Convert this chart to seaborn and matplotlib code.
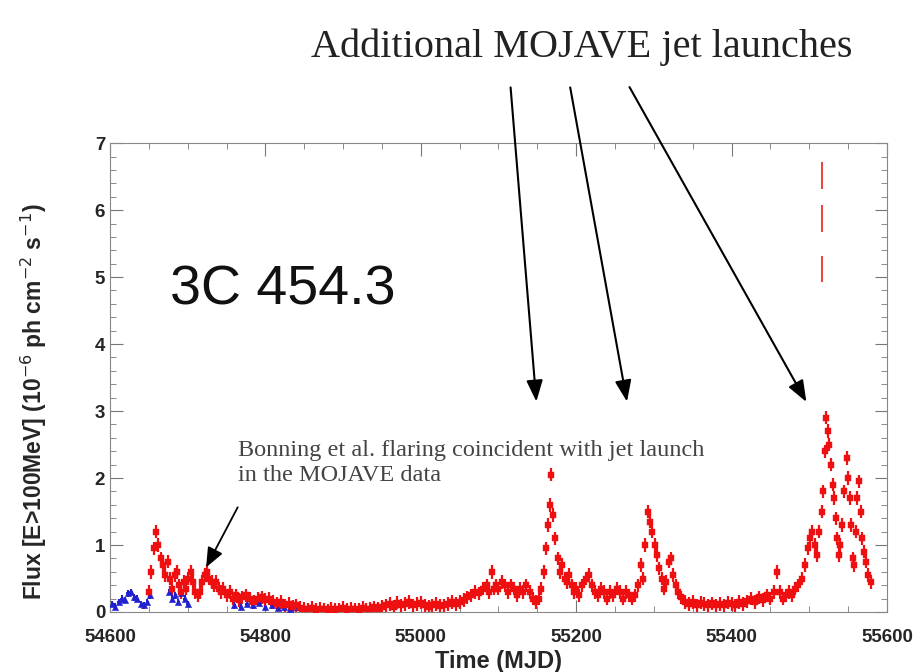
import numpy as np
import pandas as pd
import seaborn as sns
import matplotlib.pyplot as plt
from matplotlib.ticker import MultipleLocator

# Fermi-LAT light curve of 3C 454.3
red_t = [54650, 54653, 54656, 54659, 54662, 54665, 54668, 54671, 54674, 54677,
         54680, 54683, 54686, 54689, 54692, 54695, 54698, 54701, 54704, 54707,
         54710, 54713, 54716, 54719, 54722, 54725, 54728, 54731, 54734, 54737,
         54740, 54743, 54746, 54750, 54754, 54758, 54762, 54766, 54770, 54775,
         54780, 54785, 54790, 54795, 54800, 54805, 54810, 54815, 54820, 54825,
         54830, 54835, 54840, 54845, 54850, 54855, 54860, 54865, 54870, 54875,
         54880, 54885, 54890, 54895, 54900, 54905, 54910, 54915, 54920, 54925,
         54930, 54935, 54940, 54945, 54950, 54955, 54960, 54965, 54970, 54975,
         54980, 54985, 54990, 54995, 55000, 55005, 55010, 55015, 55020, 55025,
         55030, 55035, 55040, 55045, 55050, 55055, 55060, 55065, 55070, 55075,
         55080, 55085, 55088, 55091, 55094, 55097, 55100, 55104, 55108, 55112,
         55116, 55120, 55124, 55128, 55132, 55136, 55140, 55144, 55148, 55152,
         55155, 55158, 55161, 55164, 55166, 55168, 55170, 55173, 55176, 55179,
         55182, 55185, 55188, 55191, 55194, 55197, 55200, 55204, 55208, 55212,
         55216, 55220, 55224, 55228, 55232, 55236, 55240, 55244, 55248, 55252,
         55256, 55260, 55264, 55268, 55272, 55276, 55280, 55283, 55286, 55289,
         55292, 55295, 55298, 55301, 55304, 55307, 55310, 55313, 55316, 55319,
         55322, 55325, 55328, 55331, 55335, 55340, 55345, 55350, 55355, 55360,
         55365, 55370, 55375, 55380, 55385, 55390, 55395, 55400, 55405, 55410,
         55415, 55420, 55425, 55430, 55435, 55440, 55445, 55450, 55455, 55459,
         55462, 55466, 55470, 55474, 55478, 55482, 55486, 55490, 55494, 55498,
         55501, 55504, 55507, 55510, 55513, 55516, 55518, 55520, 55522, 55524,
         55526, 55528, 55530, 55532, 55534, 55536, 55538, 55540, 55542, 55545,
         55548, 55550, 55552, 55554, 55556, 55558, 55560, 55562, 55564, 55566,
         55568, 55570, 55573, 55576, 55579]
red_f = [0.30, 0.60, 0.95, 1.20, 1.00, 0.80, 0.70, 0.55, 0.75, 0.50,
         0.35, 0.55, 0.60, 0.40, 0.30, 0.45, 0.35, 0.50, 0.60, 0.45,
         0.30, 0.25, 0.30, 0.45, 0.55, 0.60, 0.50, 0.45, 0.40, 0.45,
         0.35, 0.30, 0.35, 0.25, 0.30, 0.20, 0.25, 0.18, 0.22, 0.25,
         0.20, 0.15, 0.20, 0.22, 0.18, 0.20, 0.15, 0.12, 0.15, 0.10,
         0.12, 0.08, 0.10, 0.06, 0.05, 0.04, 0.06, 0.03, 0.05, 0.04,
         0.02, 0.05, 0.03, 0.04, 0.06, 0.03, 0.05, 0.04, 0.03, 0.06,
         0.04, 0.05, 0.07, 0.05, 0.08, 0.10, 0.12, 0.08, 0.14, 0.10,
         0.12, 0.15, 0.10, 0.12, 0.14, 0.10, 0.08, 0.10, 0.12, 0.09,
         0.10, 0.12, 0.15, 0.12, 0.15, 0.18, 0.22, 0.25, 0.30, 0.28,
         0.35, 0.40, 0.30, 0.60, 0.35, 0.40, 0.35, 0.45, 0.40, 0.30,
         0.40, 0.35, 0.25, 0.35, 0.30, 0.40, 0.30, 0.20, 0.15, 0.20,
         0.35, 0.60, 0.95, 1.30, 1.60, 2.05, 1.45, 1.10, 0.80, 0.60,
         0.70, 0.50, 0.45, 0.55, 0.40, 0.30, 0.35, 0.25, 0.40, 0.50,
         0.55, 0.40, 0.30, 0.25, 0.35, 0.30, 0.20, 0.30, 0.25, 0.35,
         0.30, 0.20, 0.30, 0.25, 0.20, 0.25, 0.40, 0.70, 0.50, 1.00,
         1.50, 1.35, 1.20, 1.00, 0.85, 0.65, 0.50, 0.35, 0.45, 0.75,
         0.80, 0.55, 0.40, 0.30, 0.22, 0.15, 0.12, 0.15, 0.10, 0.14,
         0.12, 0.10, 0.13, 0.10, 0.12, 0.10, 0.14, 0.12, 0.10, 0.15,
         0.12, 0.16, 0.20, 0.15, 0.22, 0.18, 0.25, 0.20, 0.30, 0.60,
         0.30, 0.20, 0.25, 0.30, 0.25, 0.35, 0.40, 0.50, 0.70, 0.95,
         1.10, 1.20, 1.00, 0.85, 1.20, 1.50, 1.80, 2.40, 2.90, 2.70,
         2.50, 2.20, 1.90, 1.70, 1.40, 1.10, 0.85, 1.00, 1.30, 1.80,
         2.30, 2.00, 1.70, 1.30, 0.80, 0.70, 1.20, 1.70, 1.95, 1.50,
         1.10, 0.90, 0.75, 0.55, 0.45]
red_err = 0.1

# few points with huge errors near the big flare
high_t = [55516, 55516, 55516]
high_f = [6.52, 5.87, 5.12]
high_err = 0.2

# earlier data set (blue)
blue_t = [54603, 54607, 54611, 54615, 54619, 54623, 54627, 54631, 54635, 54640,
          54644, 54648, 54652, 54676, 54680, 54684, 54688, 54692, 54696, 54700,
          54760, 54768, 54776, 54784, 54792, 54800, 54808, 54816, 54824, 54832,
          54840]
blue_f = [0.12, 0.08, 0.15, 0.20, 0.18, 0.28, 0.30, 0.22, 0.20, 0.12,
          0.10, 0.15, 0.25, 0.30, 0.20, 0.25, 0.15, 0.28, 0.20, 0.12,
          0.10, 0.08, 0.12, 0.10, 0.14, 0.08, 0.10, 0.06, 0.08, 0.05,
          0.07]
blue_err = 0.05

# jet launch arrows: head positions (MJD, flux)
launch_t = [55149, 55266, 55498]
launch_f = [3.1, 3.1, 3.1]
launch_tail_x = [0.559, 0.624, 0.688]   # figure fraction

sns.set_style("ticks")
plt.rcParams['font.family'] = ['Liberation Sans', 'DejaVu Sans']

fig = plt.figure(figsize=(9.13, 6.72), dpi=100)
ax = fig.add_axes([0.1205, 0.0893, 0.851, 0.6977])

red = pd.DataFrame({"t": red_t, "f": red_f})
blue = pd.DataFrame({"t": blue_t, "f": blue_f})

ax.errorbar(blue["t"], blue["f"], yerr=blue_err, xerr=2, fmt="none",
            ecolor="#2020d0", elinewidth=1.5)
sns.scatterplot(data=blue, x="t", y="f", color="#2020d0", marker="^", s=20,
                edgecolor="#2020d0", ax=ax, zorder=3)
ax.errorbar(red["t"], red["f"], yerr=red_err, xerr=2.2, fmt="none",
            ecolor="#ee1010", elinewidth=1.6)
sns.scatterplot(data=red, x="t", y="f", color="#ee1010", marker="s", s=14,
                edgecolor="#ee1010", ax=ax, zorder=3)
ax.errorbar(high_t, high_f, yerr=high_err, fmt="none", ecolor="#ee3030",
            elinewidth=1.3)

ax.set_xlim(54600, 55600)
ax.set_ylim(0, 7)
ax.xaxis.set_major_locator(MultipleLocator(200))
ax.xaxis.set_minor_locator(MultipleLocator(50))
ax.yaxis.set_major_locator(MultipleLocator(1))
ax.yaxis.set_minor_locator(MultipleLocator(0.2))
ax.tick_params(which="both", direction="in", top=True, right=True,
               color="#777777", labelsize=13.5)
ax.tick_params(which="major", length=9)
ax.tick_params(which="minor", length=4)
ax.tick_params(axis="x", pad=12)
for lab in ax.get_xticklabels() + ax.get_yticklabels():
    lab.set_fontweight("bold")
for sp in ax.spines.values():
    sp.set_visible(True)
    sp.set_color("#888888")

ax.set_xlabel("Time (MJD)", fontsize=17, fontweight="bold", labelpad=3)
ax.set_ylabel(r"Flux [E>100MeV] (10$^{-6}$ ph cm$^{-2}$ s$^{-1}$)",
              fontsize=16.5, fontweight="bold")
ax.yaxis.set_label_coords(-0.078, 0.448)

ax.text(54677, 4.8, "3C 454.3", fontsize=40, va="center", ha="left",
        color="#111111")

ax.text(54765, 2.57, "Bonning et al. flaring coincident with jet launch\nin the MOJAVE data",
        fontsize=17.5, family="Liberation Serif", color="#444444",
        va="top", ha="left", linespacing=1.25)
ax.annotate("", xy=(54722, 0.63), xytext=(54766, 1.6),
            arrowprops=dict(arrowstyle="-|>,head_length=1.2,head_width=0.5",
                            color="black", lw=1.3))

fig.text(0.637, 0.93, "Additional MOJAVE jet launches", fontsize=29,
         family="Liberation Serif", ha="center", va="center", color="#222222")
for t, f, tx in zip(launch_t, launch_f, launch_tail_x):
    ax.annotate("", xy=(t, f), xytext=(tx, 0.874), textcoords="figure fraction",
                annotation_clip=False,
                arrowprops=dict(arrowstyle="-|>,head_length=1.3,head_width=0.5",
                                color="black", lw=1.5))

fig.savefig("out.png", dpi=100)
